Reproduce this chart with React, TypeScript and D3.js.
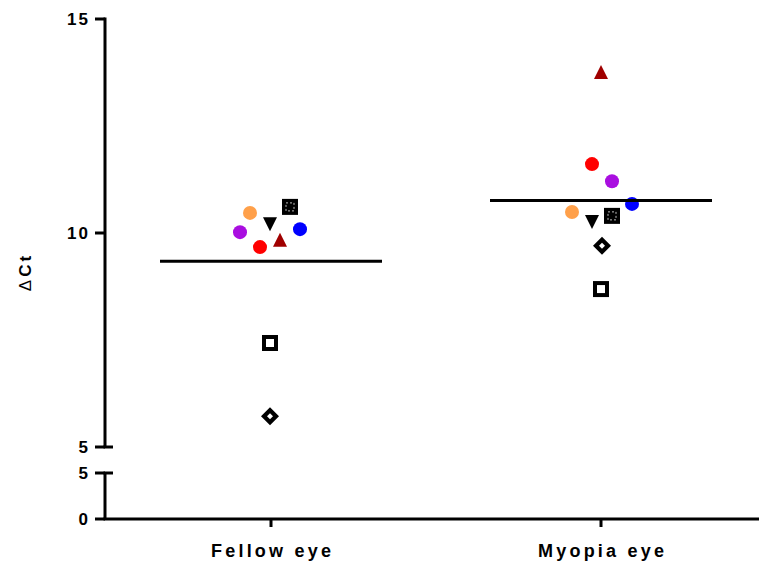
import React from "react";
import * as d3 from "d3";

const categories = ["Fellow eye", "Myopia eye"];
const seriesNames = ["orange", "purple", "red", "downTri", "upTri", "blue", "dotSquare", "openSquare", "diamond"];
const fellowValues = [10.47, 10.02, 9.67, 10.23, 9.84, 10.09, 10.61, 7.43, 5.72];
const myopiaValues = [10.49, 11.21, 11.61, 10.28, 13.76, 10.68, 10.4, 8.69, 9.7];
const fellowJitter = [-21, -31, -11, -1, 9, 29, 19, -1, -1];
const myopiaJitter = [-29, 11, -9, -9, 0, 31, 11, 0, 1];
const upperTicks = [5, 10, 15];
const lowerTicks = [0, 5];

const W = 759, H = 562;

function Marker({ kind, x, y }: { kind: string; x: number; y: number }) {
  switch (kind) {
    case "orange":
      return <circle cx={x} cy={y} r={7} fill="#ffa04a" />;
    case "purple":
      return <circle cx={x} cy={y} r={7} fill="#a90ee0" />;
    case "red":
      return <circle cx={x} cy={y} r={7} fill="#ff0000" />;
    case "blue":
      return <circle cx={x} cy={y} r={7} fill="#0000ff" />;
    case "downTri":
      return <path d={`M${x - 7},${y - 6} L${x + 7},${y - 6} L${x},${y + 8} Z`} fill="#000" />;
    case "upTri":
      return <path d={`M${x - 7},${y + 7} L${x + 7},${y + 7} L${x},${y - 7} Z`} fill="#a00000" />;
    case "dotSquare":
      return (
        <g>
          <rect x={x - 8} y={y - 8} width={16} height={16} fill="#000" />
          <rect x={x - 4} y={y - 4} width={8} height={8} fill="none" stroke="#bbb" strokeWidth={1} strokeDasharray="2,2" />
        </g>
      );
    case "openSquare":
      return (
        <g>
          <rect x={x - 8} y={y - 8} width={16} height={16} fill="#000" />
          <rect x={x - 4} y={y - 4} width={8} height={8} fill="#fff" />
        </g>
      );
    case "diamond":
      return (
        <g>
          <path d={`M${x},${y - 9} L${x + 9},${y} L${x},${y + 9} L${x - 9},${y} Z`} fill="#000" />
          <path d={`M${x},${y - 3} L${x + 3},${y} L${x},${y + 3} L${x - 3},${y} Z`} fill="#fff" />
        </g>
      );
  }
  return null;
}

export default function App() {
  const axisX = 105;
  const yUpper = d3.scaleLinear().domain([5, 15]).range([447, 19]);
  const yLower = d3.scaleLinear().domain([0, 5]).range([519, 473]);
  const x = d3.scalePoint<string>().domain(categories).range([271, 601]);
  const font = "'Liberation Sans', Arial, sans-serif";
  const groups = [
    { cat: categories[0], values: fellowValues, jitter: fellowJitter },
    { cat: categories[1], values: myopiaValues, jitter: myopiaJitter },
  ];
  const tickLs = 2;
  const xLs = 3.2;
  return (
    <svg width={W} height={H} style={{ position: "absolute", left: 0, top: 0 }}>
      <rect width={W} height={H} fill="#fff" />
      {/* upper y axis segment */}
      <line x1={axisX} x2={axisX} y1={yUpper(15) - 1.5} y2={yUpper(5)} stroke="#000" strokeWidth={3} />
      <line x1={axisX - 1.5} x2={axisX + 8} y1={yUpper(5)} y2={yUpper(5)} stroke="#000" strokeWidth={3} />
      {upperTicks.map((t) => (
        <g key={"u" + t}>
          <line x1={axisX - 10} x2={axisX} y1={yUpper(t)} y2={yUpper(t)} stroke="#000" strokeWidth={3} />
          <text x={axisX - 17 + tickLs} y={yUpper(t)} dy="0.36em" textAnchor="end" fontFamily={font} fontWeight="bold" fontSize={17} letterSpacing={tickLs}>
            {t}
          </text>
        </g>
      ))}
      {/* lower y axis segment */}
      <line x1={axisX} x2={axisX} y1={yLower(5)} y2={yLower(0)} stroke="#000" strokeWidth={3} />
      <line x1={axisX - 1.5} x2={axisX + 8} y1={yLower(5)} y2={yLower(5)} stroke="#000" strokeWidth={3} />
      {lowerTicks.map((t) => (
        <g key={"l" + t}>
          <line x1={axisX - 10} x2={axisX} y1={yLower(t)} y2={yLower(t)} stroke="#000" strokeWidth={3} />
          <text x={axisX - 17 + tickLs} y={yLower(t)} dy="0.36em" textAnchor="end" fontFamily={font} fontWeight="bold" fontSize={17} letterSpacing={tickLs}>
            {t}
          </text>
        </g>
      ))}
      {/* x axis */}
      <line x1={axisX - 1.5} x2={W} y1={yLower(0)} y2={yLower(0)} stroke="#000" strokeWidth={3} />
      {categories.map((c) => (
        <g key={c}>
          <line x1={x(c)!} x2={x(c)!} y1={yLower(0)} y2={yLower(0) + 8} stroke="#000" strokeWidth={3} />
          <text x={x(c)! + xLs / 2} y={557} textAnchor="middle" fontFamily={font} fontWeight="bold" fontSize={18} letterSpacing={xLs}>
            {c}
          </text>
        </g>
      ))}
      {/* y label */}
      <text transform={`translate(31,${272}) rotate(-90)`} textAnchor="middle" fontFamily={font} fontWeight="bold" fontSize={17} letterSpacing={3}>
        <tspan fontWeight="normal">Δ</tspan>Ct
      </text>
      {/* points and means */}
      {groups.map((g) => {
        const mean = d3.mean(g.values)!;
        const cx = x(g.cat)!;
        return (
          <g key={g.cat}>
            {g.values.map((v, i) => (
              <Marker key={i} kind={seriesNames[i]} x={cx + g.jitter[i]} y={yUpper(v)} />
            ))}
            <line x1={cx - 111} x2={cx + 111} y1={yUpper(mean)} y2={yUpper(mean)} stroke="#000" strokeWidth={3} />
          </g>
        );
      })}
    </svg>
  );
}
